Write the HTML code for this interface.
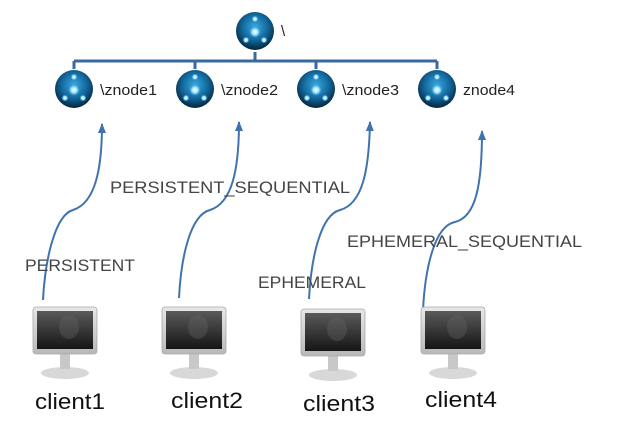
<!DOCTYPE html>
<html><head><meta charset="utf-8"><style>
body{margin:0;background:#fff;}
svg{display:block;font-family:"Liberation Sans",sans-serif;}
</style></head><body>
<svg width="617" height="435" viewBox="0 0 617 435" xmlns="http://www.w3.org/2000/svg">
<defs>
<radialGradient id="sph" cx="50%" cy="40%" r="60%">
<stop offset="0" stop-color="#3aa8e0"/><stop offset="0.55" stop-color="#136a9e"/><stop offset="1" stop-color="#06253d"/>
</radialGradient>
<radialGradient id="glow" cx="50%" cy="50%" r="50%">
<stop offset="0" stop-color="#ffffff"/><stop offset="0.5" stop-color="#9fe4ff"/><stop offset="1" stop-color="#2aa0e0" stop-opacity="0"/>
</radialGradient>
<linearGradient id="scr" x1="0" y1="0" x2="0" y2="1">
<stop offset="0" stop-color="#5a5a5a"/><stop offset="1" stop-color="#151515"/>
</linearGradient>
<linearGradient id="frm" x1="0" y1="0" x2="0" y2="1">
<stop offset="0" stop-color="#e8e8e8"/><stop offset="1" stop-color="#b8b8b8"/>
</linearGradient>
<g id="node">
<circle r="19" fill="url(#sph)"/>
<circle cx="0" cy="-12" r="3.5" fill="url(#glow)"/>
<circle cx="0" cy="1" r="6" fill="url(#glow)"/>
<circle cx="-9" cy="9" r="3.5" fill="url(#glow)"/>
<circle cx="9" cy="9" r="3.5" fill="url(#glow)"/>
</g>
<g id="mon">
<ellipse cx="32" cy="66" rx="24" ry="6" fill="#d8d8d8"/>
<rect x="27" y="46" width="10" height="16" fill="#c8c8c8"/>
<rect x="0" y="0" width="64" height="47" rx="3" fill="url(#frm)" stroke="#aaa" stroke-width="0.8"/>
<rect x="4" y="4" width="56" height="38" fill="url(#scr)"/>
<ellipse cx="36" cy="20" rx="10" ry="12" fill="#666" opacity="0.35"/>
</g>
<marker id="ar" markerWidth="10" markerHeight="10" refX="9" refY="4" orient="auto" markerUnits="userSpaceOnUse" viewBox="0 0 10 8">
<path d="M0,0 L10,4 L0,8 Z" fill="#3f73b0"/>
</marker>
</defs>
<g stroke="#3b6aa0" stroke-width="3" fill="none">
<path d="M74,61 H437"/>
<path d="M255,52 V61 M74,61 V69 M195,61 V69 M316,61 V69 M437,61 V69"/>
</g>
<use href="#node" x="255" y="31"/>
<text x="281" y="36" font-size="15" fill="#222">\</text>
<use href="#node" x="74" y="89"/><text x="100" y="95" font-size="15" fill="#222" textLength="57" lengthAdjust="spacingAndGlyphs">\znode1</text>
<use href="#node" x="195" y="89"/><text x="221" y="95" font-size="15" fill="#222" textLength="57" lengthAdjust="spacingAndGlyphs">\znode2</text>
<use href="#node" x="316" y="89"/><text x="342" y="95" font-size="15" fill="#222" textLength="57" lengthAdjust="spacingAndGlyphs">\znode3</text>
<use href="#node" x="437" y="89"/><text x="463" y="95" font-size="15" fill="#222" textLength="52" lengthAdjust="spacingAndGlyphs">znode4</text>
<g stroke="#3f73b0" stroke-width="2" fill="none" marker-end="url(#ar)">
<path d="M43,300 C45,260 55,215 73,210 C95,203 102,170 102,124"/>
<path d="M179,298 C181,258 190,215 210,210 C232,203 239,170 239,122"/>
<path d="M309,299 C311,260 320,215 340,210 C362,204 369,172 370,122"/>
<path d="M423,310 C425,270 434,226 455,222 C476,217 482,185 482,131"/>
</g>
<g font-size="17" fill="#444" lengthAdjust="spacingAndGlyphs">
<text x="25" y="271" textLength="110" lengthAdjust="spacingAndGlyphs">PERSISTENT</text>
<text x="110" y="193" textLength="240" lengthAdjust="spacingAndGlyphs">PERSISTENT_SEQUENTIAL</text>
<text x="258" y="288" textLength="108" lengthAdjust="spacingAndGlyphs">EPHEMERAL</text>
<text x="347" y="247" textLength="235" lengthAdjust="spacingAndGlyphs">EPHEMERAL_SEQUENTIAL</text>
</g>
<use href="#mon" x="33" y="307"/>
<use href="#mon" x="162" y="307"/>
<use href="#mon" x="301" y="309"/>
<use href="#mon" x="421" y="307"/>
<g font-size="22" fill="#111">
<text x="35" y="409" textLength="70" lengthAdjust="spacingAndGlyphs">client1</text>
<text x="171" y="408" textLength="72" lengthAdjust="spacingAndGlyphs">client2</text>
<text x="303" y="411" textLength="72" lengthAdjust="spacingAndGlyphs">client3</text>
<text x="425" y="407" textLength="72" lengthAdjust="spacingAndGlyphs">client4</text>
</g>
</svg>
</body></html>
